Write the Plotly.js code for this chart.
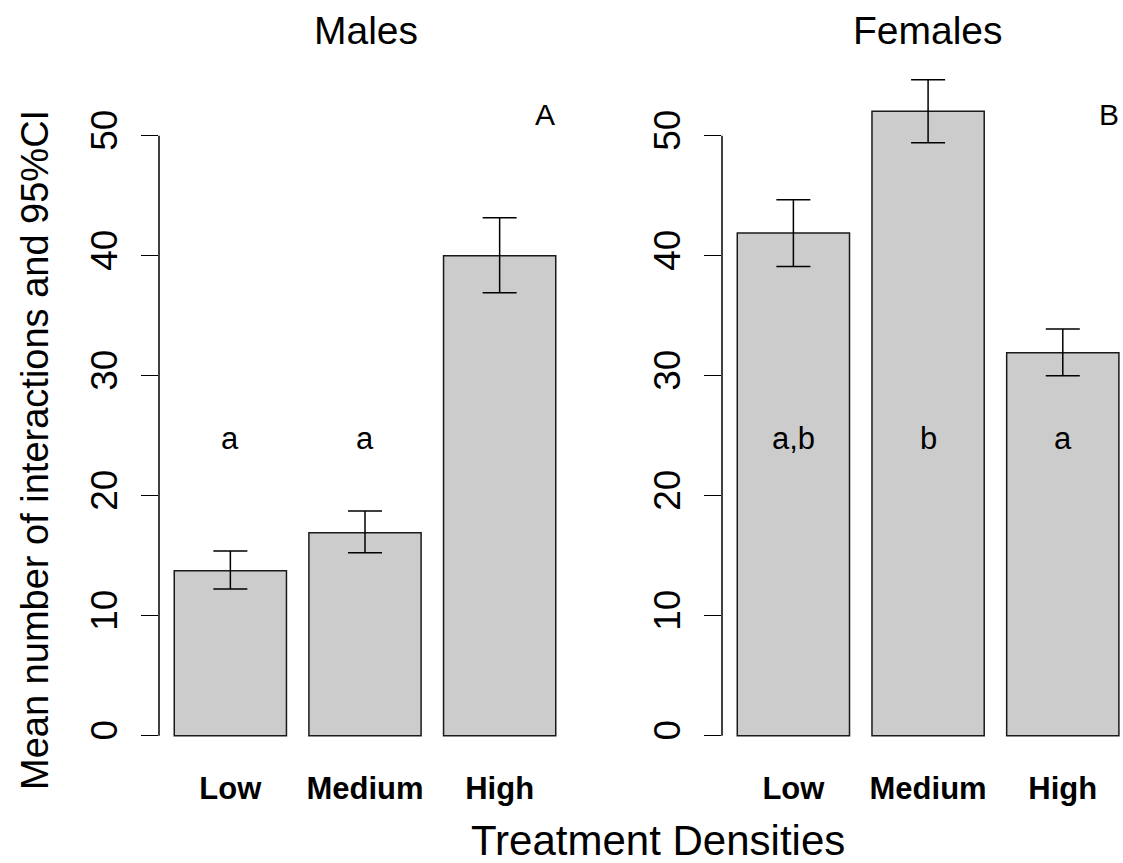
<!DOCTYPE html>
<html>
<head>
<meta charset="utf-8">
<script src="https://cdn.plot.ly/plotly-3.0.1.min.js"></script>
<style>html,body{margin:0;padding:0;background:#fff;}#chart{width:1123px;height:863px;}</style>
</head>
<body>
<div id="chart"></div>
<script>
// ---- data ----
var categories = ["Low", "Medium", "High"];
var maleMeans  = [13.75, 16.92, 40.0];
var maleLower  = [12.22, 15.25, 36.92];
var maleUpper  = [15.39, 18.72, 43.17];
var femaleMeans = [41.9, 52.03, 31.92];
var femaleLower = [39.11, 49.42, 30.0];
var femaleUpper = [44.67, 54.67, 33.89];
var maleLetters = ["a", "a", ""];
var femaleLetters = ["a,b", "b", "a"];
var panelTitles = ["Males", "Females"];
var panelTags = ["A", "B"];
var yTicks = [0, 10, 20, 30, 40, 50];
var xTitle = "Treatment Densities";
var yTitle = "Mean number of interactions and 95%CI";

var FONT = "Liberation Sans, Arial, Helvetica, sans-serif";

function errs(means, lo, hi) {
  return {
    type: "data", symmetric: false,
    array: hi.map(function (v, i) { return v - means[i]; }),
    arrayminus: lo.map(function (v, i) { return means[i] - v; }),
    color: "#000", thickness: 1.5, width: 17
  };
}

function barTrace(means, lo, hi, xa, ya) {
  return {
    type: "bar", x: categories, y: means, xaxis: xa, yaxis: ya,
    marker: { color: "#cccccc", line: { color: "#1a1a1a", width: 1.5 } },
    error_y: errs(means, lo, hi), hoverinfo: "skip", showlegend: false
  };
}

var data = [
  barTrace(maleMeans, maleLower, maleUpper, "x", "y"),
  barTrace(femaleMeans, femaleLower, femaleUpper, "x2", "y2")
];

var yDom = [0.13094, 0.93048];
var yRange = [-1.19, 56.31];

function yAxis(anchor) {
  return {
    anchor: anchor, domain: yDom, range: yRange, fixedrange: true,
    showgrid: false, zeroline: false, showline: false,
    ticks: "outside", ticklen: 17, tickwidth: 1.5, tickcolor: "#000",
    tickvals: yTicks, ticktext: yTicks.map(String), tickangle: -90,
    ticklabelstandoff: 9,
    tickfont: { family: FONT, size: 37, color: "#000" }
  };
}
function xAxis(anchor, dom, rng) {
  return {
    anchor: anchor, domain: dom, range: rng, type: "category", fixedrange: true,
    showgrid: false, zeroline: false, showline: false, ticks: "",
    ticklabelstandoff: 17,
    tickfont: { family: FONT, size: 31, color: "#000", weight: "bold" }
  };
}

var annotations = [];
function letterAnn(txt, x, xa, ya, y, size) {
  return { text: txt, x: x, y: y, xref: xa, yref: ya, showarrow: false,
    xanchor: "center", yanchor: "middle",
    font: { family: FONT, size: size, color: "#000" } };
}
maleLetters.forEach(function (t, i) { if (t) annotations.push(letterAnn(t, categories[i], "x", "y", 24.8, 31)); });
femaleLetters.forEach(function (t, i) { if (t) annotations.push(letterAnn(t, categories[i], "x2", "y2", 24.8, 31)); });
annotations.push(letterAnn(panelTags[0], 2.34, "x", "y", 51.8, 30));
annotations.push(letterAnn(panelTags[1], 2.34, "x2", "y2", 51.8, 30));
// panel titles
annotations.push({ text: panelTitles[0], x: 366 / 1123, y: 1 - 31 / 863, xref: "paper", yref: "paper",
  showarrow: false, xanchor: "center", yanchor: "middle", font: { family: FONT, size: 39, color: "#000" } });
annotations.push({ text: panelTitles[1], x: 928 / 1123, y: 1 - 31 / 863, xref: "paper", yref: "paper",
  showarrow: false, xanchor: "center", yanchor: "middle", font: { family: FONT, size: 39, color: "#000" } });
// axis titles
annotations.push({ text: xTitle, x: 658 / 1123, y: 1 - 840 / 863, xref: "paper", yref: "paper",
  showarrow: false, xanchor: "center", yanchor: "middle", font: { family: FONT, size: 42, color: "#000" } });
annotations.push({ text: yTitle, x: 35 / 1123, y: 1 - 450 / 863, xref: "paper", yref: "paper",
  showarrow: false, xanchor: "center", yanchor: "middle", textangle: -90,
  font: { family: FONT, size: 38, color: "#000" } });

var shapes = [
  { type: "line", xref: "x domain", yref: "y", x0: 0, x1: 0, y0: 0, y1: 50, line: { color: "#000", width: 1.5 } },
  { type: "line", xref: "x2 domain", yref: "y2", x0: 0, x1: 0, y0: 0, y1: 50, line: { color: "#000", width: 1.5 } }
];

var layout = {
  width: 1123, height: 863,
  margin: { l: 0, r: 0, t: 0, b: 0, pad: 0 },
  paper_bgcolor: "#fff", plot_bgcolor: "rgba(0,0,0,0)",
  bargap: 0.1667,
  xaxis: xAxis("y", [159 / 1123, 571 / 1123], [-0.53, 2.53]),
  xaxis2: xAxis("y2", [722 / 1123, 1], [-0.53, 2.447]),
  yaxis: yAxis("x"),
  yaxis2: yAxis("x2"),
  annotations: annotations,
  shapes: shapes,
  showlegend: false
};

Plotly.newPlot("chart", data, layout, { staticPlot: true, displayModeBar: false });
</script>
</body>
</html>
